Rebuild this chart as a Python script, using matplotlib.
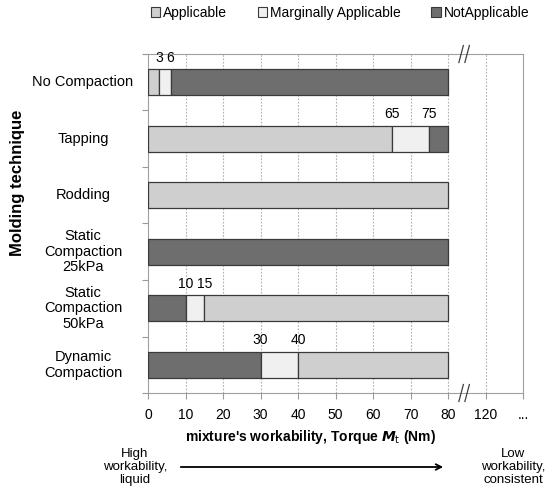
import matplotlib.pyplot as plt
from matplotlib.patches import Patch
import matplotlib.transforms as mtransforms

plt.rcParams['font.family'] = ['Liberation Sans', 'DejaVu Sans']
plt.rcParams['font.size'] = 10

categories = ['No Compaction', 'Tapping', 'Rodding',
              'Static\nCompaction\n25kPa', 'Static\nCompaction\n50kPa',
              'Dynamic\nCompaction']
classes = ['Applicable', 'Marginally Applicable', 'NotApplicable']
class_colors = ['#cfcfcf', '#f0f0f0', '#6e6e6e']

# boundaries along the torque axis and class index of each segment
row_bounds = [[0, 3, 6, 80],
              [0, 65, 75, 80],
              [0, 80],
              [0, 80],
              [0, 10, 15, 80],
              [0, 30, 40, 80]]
row_classes = [[0, 1, 2],
               [0, 1, 2],
               [0],
               [2],
               [2, 1, 0],
               [2, 1, 0]]

tick_vals = [0, 10, 20, 30, 40, 50, 60, 70, 80, 90, 100]
tick_labels = ['0', '10', '20', '30', '40', '50', '60', '70', '80', '120', '...']

fig = plt.figure(figsize=(5.45, 4.94), dpi=100)
ax = fig.add_axes([148/545, 1-393/494, 375/545, 339/494])

bar_h = 0.46
for i, (bounds, cls) in enumerate(zip(row_bounds, row_classes)):
    for j, c in enumerate(cls):
        ax.barh(i, bounds[j+1] - bounds[j], left=bounds[j], height=bar_h,
                color=class_colors[c], edgecolor='#3a3a3a', linewidth=0.9, zorder=3)
    for b in bounds[1:-1]:
        ax.text(b, i - bar_h/2 - 0.08, str(b), ha='center', va='bottom', fontsize=10)

ax.set_xlim(0, 100)
ax.set_ylim(5.5, -0.5)
ax.set_xticks(tick_vals)
ax.set_xticklabels(tick_labels)
ax.set_yticks([k - 0.5 for k in range(7)])
ax.set_yticklabels([])
ax.tick_params(axis='both', length=4, color='#999999', labelsize=10)
ax.tick_params(axis='x', pad=7)
for s in ax.spines.values():
    s.set_color('#a0a0a0')
for x in tick_vals[1:-1]:
    ax.axvline(x, color='#b0b0b0', linestyle=(0, (1.5, 1.5)), linewidth=0.8, zorder=1)

# category labels centred left of the axis
tr = mtransforms.blended_transform_factory(fig.transFigure, ax.transData)
for i, name in enumerate(categories):
    ax.text(83/545, i, name, transform=tr, ha='center', va='center',
            fontsize=10.5, linespacing=1.15)

# axis break marks
xb = 84.5
brk = mtransforms.blended_transform_factory(ax.transData, ax.transAxes)
for yb in (1.0, 0.0):
    for dx in (-1.0, 0.6):
        ax.plot([xb + dx - 0.6, xb + dx + 0.6], [yb - 0.025, yb + 0.025],
                transform=brk, color='#404040', linewidth=0.9, clip_on=False, zorder=5)

handles = [Patch(facecolor=c, edgecolor='#3a3a3a', linewidth=0.8) for c in class_colors]
fig.legend(handles, classes, loc='center', bbox_to_anchor=(340/545, 1-13/494), ncol=3,
           frameon=False, handlelength=0.7, handleheight=0.7, handletextpad=0.2,
           columnspacing=2.2, fontsize=10)

fig.text(18/545, 1-183/494, 'Molding technique', rotation=90, ha='center', va='center',
         fontsize=12, fontweight='bold')
fig.text(310/545, 1-437/494, r"mixture's workability, Torque $\mathbfit{M}_\mathrm{t}$ (Nm)",
         ha='center', va='center', fontsize=10, fontweight='bold')

fig.text(135/545, 1-467/494, 'High\nworkability,\nliquid', ha='center', va='center',
         fontsize=9.5, linespacing=1.1)
fig.text(513/545, 1-467/494, 'Low\nworkability,\nconsistent', ha='center', va='center',
         fontsize=9.5, linespacing=1.1)
ax.annotate('', xy=(446/545, 1-467/494), xytext=(178/545, 1-467/494),
            xycoords='figure fraction', textcoords='figure fraction',
            arrowprops=dict(arrowstyle='->', color='black', linewidth=1.3))

fig.savefig('out.png', dpi=100)
